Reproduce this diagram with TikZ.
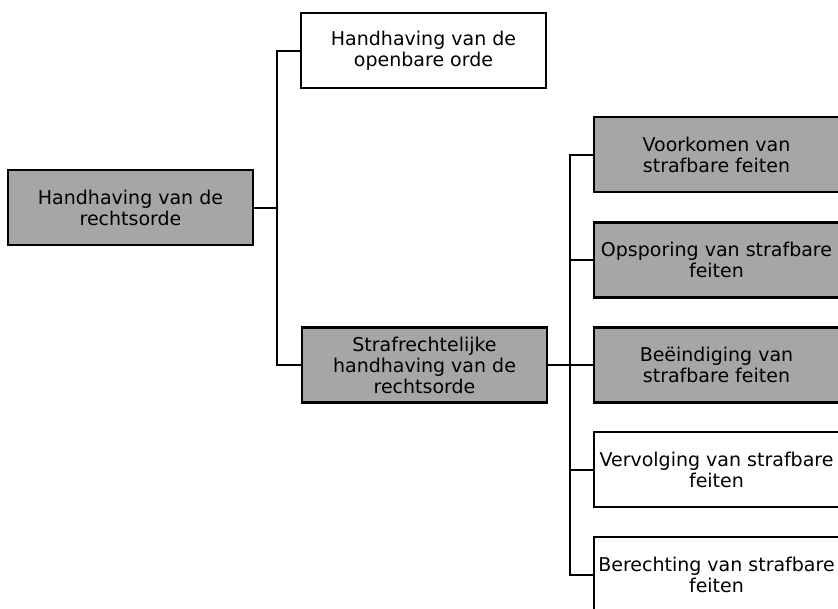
\documentclass[tikz,border=0pt]{standalone}
\usepackage{fontspec}
\setmainfont{DejaVu Sans}
\definecolor{boxgray}{RGB}{166,166,166}
\begin{document}
\begin{tikzpicture}[x=1pt,y=-1pt,
  box/.style={draw=black,line width=2.2pt,minimum width=245pt,minimum height=75pt,
    align=center,inner sep=0pt,font=\fontsize{19}{21}\selectfont},
  grayfill/.style={box,fill=boxgray},
  whitefill/.style={box,fill=white},
  conn/.style={draw=black,line width=2pt}]
\useasboundingbox (0,0) rectangle (838,608);
\node[grayfill] (root) at (130.5,207.5) {Handhaving van de\\rechtsorde};
\node[whitefill] (orde) at (423.5,50.5) {Handhaving van de\\openbare orde};
\node[grayfill] (straf) at (424.5,365) {Strafrechtelijke\\handhaving van de\\rechtsorde};
\node[grayfill] (voor) at (716.5,154.5) {Voorkomen van\\strafbare feiten};
\node[grayfill] (opsp) at (716.5,260) {Opsporing van strafbare\\feiten};
\node[grayfill] (beei) at (716.5,365) {Beëindiging van\\strafbare feiten};
\node[whitefill] (verv) at (716.5,469.5) {Vervolging van strafbare\\feiten};
\node[whitefill] (bere) at (716.5,574.5) {Berechting van strafbare\\feiten};
\coordinate (t1) at (277,0);
\coordinate (t2) at (570,0);
\draw[conn] (root.east) -- (root.east -| t1);
\draw[conn] (orde.west) -- (orde.west -| t1) -- (straf.west -| t1) -- (straf.west);
\draw[conn] (straf.east) -- (beei.west);
\draw[conn] (voor.west) -- (voor.west -| t2) -- (bere.west -| t2) -- (bere.west);
\draw[conn] (opsp.west) -- (opsp.west -| t2);
\draw[conn] (verv.west) -- (verv.west -| t2);
\end{tikzpicture}
\end{document}
